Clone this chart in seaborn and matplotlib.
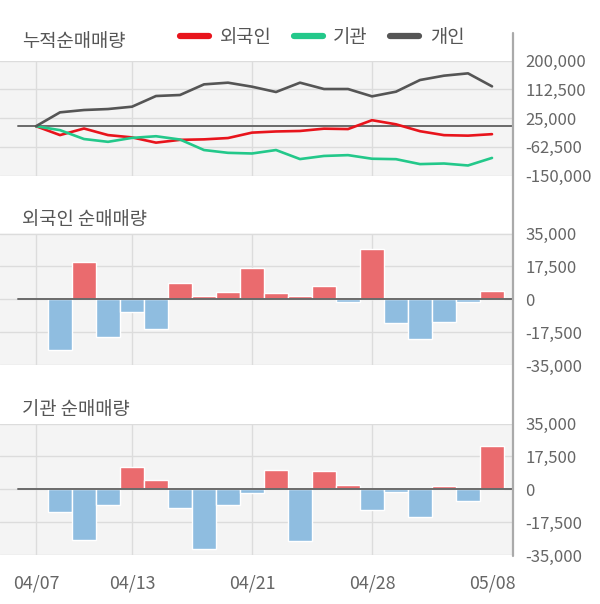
import matplotlib.pyplot as plt
import seaborn as sns
import pandas as pd
import numpy as np
from matplotlib.lines import Line2D

# 거래일 (2020)
dates = ['04/07', '04/08', '04/09', '04/10', '04/13', '04/14', '04/16', '04/17',
         '04/20', '04/21', '04/22', '04/23', '04/24', '04/27', '04/28', '04/29',
         '05/04', '05/06', '05/07', '05/08']
tick_dates = ['04/07', '04/13', '04/21', '04/28', '05/08']

# 일별 순매매량 (04/08 ~ 05/08)
foreign_daily = [-27000, 20000, -20000, -7000, -16000, 8500, 1500, 4000, 16500, 3500,
                 1500, 7000, -1200, 27000, -12500, -21000, -12000, -1500, 4500]
inst_daily = [-12000, -27000, -8500, 12000, 5000, -10000, -32000, -8500, -2000, 10500,
              -27500, 9500, 2500, -11000, -1300, -15000, 1800, -6000, 23000]
# 개인 누적순매매량
indiv_cum = [0, 42200, 49300, 52300, 59400, 91900, 95000, 127400, 132500, 120300,
             104100, 132500, 113200, 113200, 90900, 105100, 140600, 153800, 160900, 121300]

foreign_cum = [0] + list(np.cumsum(foreign_daily))
inst_cum = [0] + list(np.cumsum(inst_daily))

top_ticks = [200000, 112500, 25000, -62500, -150000]
bar_ticks = [35000, 17500, 0, -17500, -35000]

sns.set_style('white')
plt.rcParams['font.family'] = ['Noto Sans CJK KR', 'DejaVu Sans']

bg = '#f4f4f4'
grid_c = '#dcdcdc'
text_c = '#555555'
tick_c = '#666666'

fig = plt.figure(figsize=(6, 6.04), dpi=100)
W, H = 600, 604

def make_ax(top_px, bot_px):
    ax = fig.add_axes([0, 1 - bot_px / H, 513 / W, (bot_px - top_px) / H])
    ax.set_facecolor(bg)
    for s in ax.spines.values():
        s.set_visible(False)
    ax.set_xlim(-1.5, 19.875)
    return ax

def style_y(ax, ticks):
    ax.set_ylim(min(ticks), max(ticks))
    ax.yaxis.tick_right()
    ax.set_yticks(ticks)
    ax.set_yticklabels([f'{t:,}' for t in ticks], color=tick_c, fontsize=12)
    ax.tick_params(axis='y', length=0, pad=9)
    for t in ticks:
        ax.axhline(t, color=grid_c, lw=1, zorder=0)
    for xi in [0, 4, 9, 14]:
        ax.axvline(xi, color=grid_c, lw=1, zorder=0)
    ax.axhline(0, xmin=0.75 / 21.375, color='#6a6a6a', lw=1.4, zorder=3)
    ax.set_xlabel('')
    ax.set_ylabel('')

# 누적순매매량
ax1 = make_ax(60.5, 175.5)
cum_df = pd.DataFrame({
    'x': list(range(20)) * 3,
    'v': foreign_cum + inst_cum + indiv_cum,
    'who': ['외국인'] * 20 + ['기관'] * 20 + ['개인'] * 20,
})
sns.lineplot(data=cum_df, x='x', y='v', hue='who', hue_order=['외국인', '기관', '개인'],
             palette=['#e8141c', '#23c88a', '#555555'], lw=1.9, ax=ax1, zorder=4)
style_y(ax1, top_ticks)
ax1.set_xticks([])
leg = ax1.legend(loc='center', bbox_to_anchor=(0.537, 0.938), bbox_transform=fig.transFigure,
                 ncol=3, frameon=False, fontsize=13.5, handlelength=1.55, handletextpad=0.55,
                 columnspacing=1.2, labelcolor=text_c)
for l in leg.get_lines():
    l.set_linewidth(4.5)

# 순매매량 막대
def bar_panel(top_px, bot_px, vals):
    ax = make_ax(top_px, bot_px)
    df = pd.DataFrame({'x': list(range(1, 20)), 'v': vals})
    df['sign'] = np.where(df['v'] >= 0, 'pos', 'neg')
    sns.barplot(data=df, x='x', y='v', hue='sign', hue_order=['pos', 'neg'],
                palette={'pos': '#ea6b6e', 'neg': '#8fbde0'}, dodge=False,
                native_scale=True, width=1.0, legend=False, errorbar=None,
                saturation=1, ax=ax, zorder=2)
    ax.set_xlim(-1.5, 19.875)
    style_y(ax, bar_ticks)
    return ax

ax2 = bar_panel(233.5, 365, foreign_daily)
ax2.set_xticks([])
ax3 = bar_panel(423.5, 555, inst_daily)
ax3.set_xticks([dates.index(d) for d in tick_dates])
ax3.set_xticklabels(tick_dates, color=tick_c, fontsize=12.8)
ax3.tick_params(axis='x', length=0, pad=14)

fig.text(22 / W, 1 - 41 / H, '누적순매매량', fontsize=13.5, color=text_c, va='center')
fig.text(22 / W, 1 - 220 / H, '외국인 순매매량', fontsize=13.5, color=text_c, va='center')
fig.text(22 / W, 1 - 410 / H, '기관 순매매량', fontsize=13.5, color=text_c, va='center')

fig.add_artist(Line2D([512.5 / W] * 2, [1 - 33 / H, 1 - 556 / H], color='#aaaaaa', lw=1.6))

fig.savefig('out.png', dpi=100)
